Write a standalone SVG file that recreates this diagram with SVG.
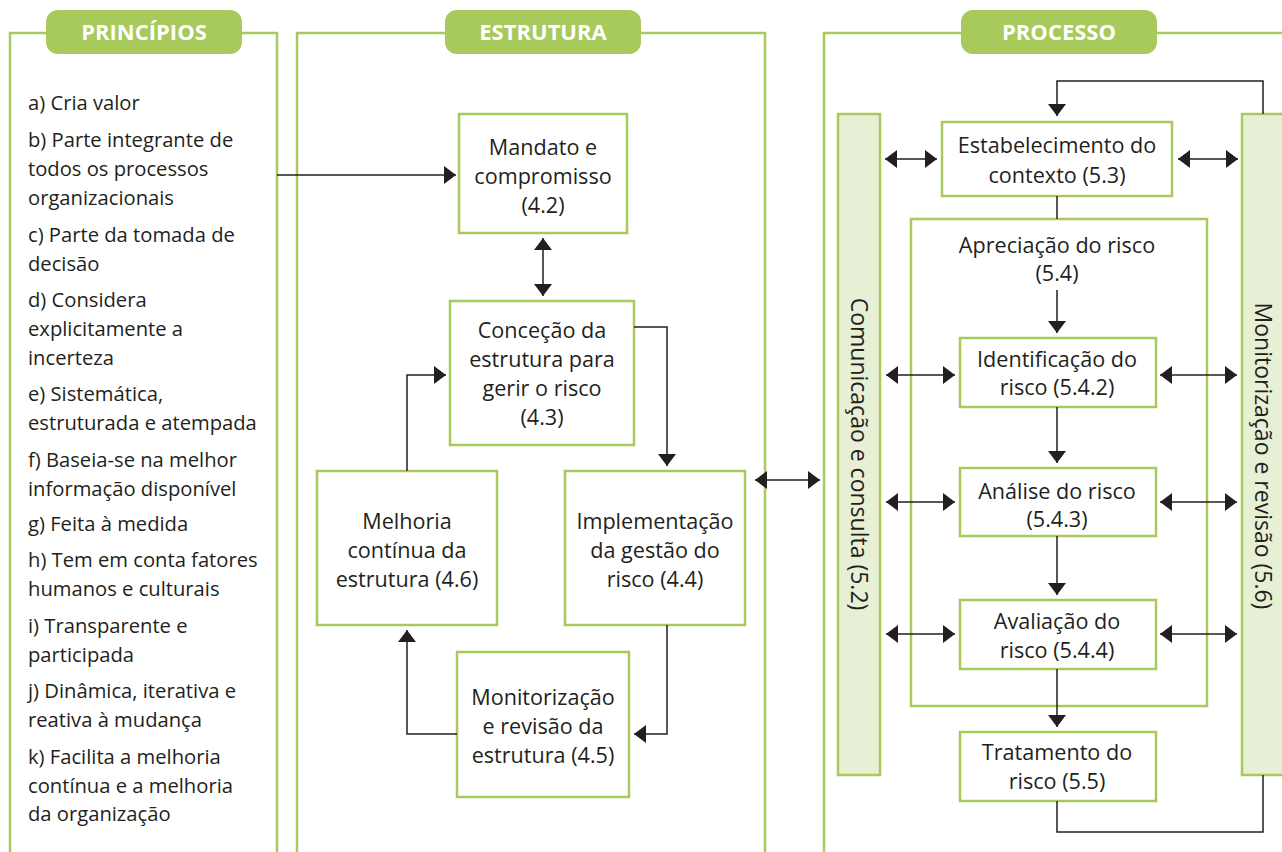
<svg xmlns="http://www.w3.org/2000/svg" width="1282" height="852" viewBox="0 0 1282 852">
<style>
.panel{fill:none;stroke:#a8c95c;stroke-width:2.5}
.pill{fill:#a8c95c}
.hdr{font-family:"Open Sans",sans-serif;font-weight:bold;font-size:22px;fill:#fff;text-anchor:middle}
.box{fill:#fff;stroke:#a8c95c;stroke-width:2.5}
.bar{fill:#e7f0d5;stroke:#a8c95c;stroke-width:2.5}
.t{font-family:"Open Sans",sans-serif;font-size:21.6px;fill:#231f20}
.p{font-family:"Open Sans",sans-serif;font-size:20.2px;fill:#231f20}
.v{font-family:"Open Sans",sans-serif;font-size:23px;fill:#231f20;text-anchor:middle}
.c{text-anchor:middle}
.ln{fill:none;stroke:#231f20;stroke-width:1.5}
.a{marker-end:url(#ah)}
.d{marker-start:url(#ah);marker-end:url(#ah)}
</style>
<defs>
<marker id="ah" markerUnits="userSpaceOnUse" markerWidth="13" markerHeight="18" viewBox="0 0 13 18" refX="12" refY="9" orient="auto-start-reverse">
<path d="M0,0 L12,9 L0,18 Z" fill="#231f20"/>
</marker>
</defs>
<rect width="1282" height="852" fill="#fff"/>

<g id="principios">
<path class="panel" d="M10,852 V33 H277 V852"/>
<rect class="pill" x="46" y="10" width="196" height="44" rx="12"/>
<text class="hdr" x="144" y="40">PRINCÍPIOS</text>
<text class="p" x="28">
<tspan x="28" y="110">a) Cria valor</tspan>
<tspan x="28" y="147">b) Parte integrante de</tspan>
<tspan x="28" y="176">todos os processos</tspan>
<tspan x="28" y="205">organizacionais</tspan>
<tspan x="28" y="242">c) Parte da tomada de</tspan>
<tspan x="28" y="271">decisão</tspan>
<tspan x="28" y="307">d) Considera</tspan>
<tspan x="28" y="336">explicitamente a</tspan>
<tspan x="28" y="365">incerteza</tspan>
<tspan x="28" y="401">e) Sistemática,</tspan>
<tspan x="28" y="430">estruturada e atempada</tspan>
<tspan x="28" y="467">f) Baseia-se na melhor</tspan>
<tspan x="28" y="496">informação disponível</tspan>
<tspan x="28" y="531">g) Feita à medida</tspan>
<tspan x="28" y="567">h) Tem em conta fatores</tspan>
<tspan x="28" y="596">humanos e culturais</tspan>
<tspan x="28" y="633">i) Transparente e</tspan>
<tspan x="28" y="662">participada</tspan>
<tspan x="28" y="698">j) Dinâmica, iterativa e</tspan>
<tspan x="28" y="727">reativa à mudança</tspan>
<tspan x="28" y="764">k) Facilita a melhoria</tspan>
<tspan x="28" y="793">contínua e a melhoria</tspan>
<tspan x="28" y="821">da organização</tspan>
</text>
</g>

<g id="estrutura">
<path class="panel" d="M297,852 V33 H765 V852"/>
<rect class="pill" x="445" y="10" width="196" height="44" rx="12"/>
<text class="hdr" x="543" y="40">ESTRUTURA</text>
</g>

<g id="mandato">
<rect class="box" x="459" y="114" width="168" height="119"/>
<text class="t c"><tspan x="543" y="155">Mandato e</tspan><tspan x="543" y="184">compromisso</tspan><tspan x="543" y="213">(4.2)</tspan></text>
</g>
<g id="concecao">
<rect class="box" x="450" y="301" width="184" height="144"/>
<text class="t c"><tspan x="542" y="338">Conceção da</tspan><tspan x="542" y="367">estrutura para</tspan><tspan x="542" y="396">gerir o risco</tspan><tspan x="542" y="425">(4.3)</tspan></text>
</g>
<g id="melhoria">
<rect class="box" x="317" y="471" width="180" height="154"/>
<text class="t c"><tspan x="407" y="529">Melhoria</tspan><tspan x="407" y="558">contínua da</tspan><tspan x="407" y="587">estrutura (4.6)</tspan></text>
</g>
<g id="implementacao">
<rect class="box" x="565" y="471" width="180" height="154"/>
<text class="t c"><tspan x="655" y="529">Implementação</tspan><tspan x="655" y="558">da gestão do</tspan><tspan x="655" y="587">risco (4.4)</tspan></text>
</g>
<g id="monitorizacao-estrutura">
<rect class="box" x="457" y="652" width="172" height="145"/>
<text class="t c"><tspan x="543" y="705">Monitorização</tspan><tspan x="543" y="734">e revisão da</tspan><tspan x="543" y="763">estrutura (4.5)</tspan></text>
</g>

<g id="processo">
<path class="panel" d="M824,852 V33 H1290"/>
<rect class="pill" x="961" y="10" width="196" height="44" rx="12"/>
<text class="hdr" x="1059" y="40">PROCESSO</text>
</g>

<g id="comunicacao">
<rect class="bar" x="838" y="114" width="42" height="661"/>
<text class="v" transform="translate(859,454) rotate(90)" x="0" y="8">Comunicação e consulta (5.2)</text>
</g>
<g id="monitorizacao-revisao">
<rect class="bar" x="1242" y="114" width="50" height="661"/>
<text class="v" transform="translate(1263,456) rotate(90)" x="0" y="8">Monitorização e revisão (5.6)</text>
</g>
<g id="contexto">
<rect class="box" x="942" y="122" width="230" height="74"/>
<text class="t c"><tspan x="1057" y="153">Estabelecimento do</tspan><tspan x="1057" y="183">contexto (5.3)</tspan></text>
</g>
<g id="apreciacao">
<rect class="box" x="911" y="219" width="296" height="487"/>
<text class="t c"><tspan x="1057" y="253">Apreciação do risco</tspan><tspan x="1057" y="281">(5.4)</tspan></text>
</g>
<g id="identificacao">
<rect class="box" x="960" y="338" width="196" height="69"/>
<text class="t c"><tspan x="1057" y="367">Identificação do</tspan><tspan x="1057" y="395">risco (5.4.2)</tspan></text>
</g>
<g id="analise">
<rect class="box" x="960" y="468" width="196" height="68"/>
<text class="t c"><tspan x="1057" y="499">Análise do risco</tspan><tspan x="1057" y="527">(5.4.3)</tspan></text>
</g>
<g id="avaliacao">
<rect class="box" x="960" y="600" width="196" height="69"/>
<text class="t c"><tspan x="1057" y="629">Avaliação do</tspan><tspan x="1057" y="658">risco (5.4.4)</tspan></text>
</g>
<g id="tratamento">
<rect class="box" x="960" y="732" width="196" height="69"/>
<text class="t c"><tspan x="1057" y="760">Tratamento do</tspan><tspan x="1057" y="789">risco (5.5)</tspan></text>
</g>

<g id="connectors">
<path class="ln a" d="M277,175 H456"/>
<path class="ln d" d="M543,238 V296"/>
<path class="ln a" d="M634,327 H667 V466"/>
<path class="ln a" d="M667,625 V734 H634"/>
<path class="ln a" d="M457,734 H407 V630"/>
<path class="ln a" d="M407,471 V375 H446"/>
<path class="ln d" d="M755,480 H820"/>
<path class="ln a" d="M1263,114 V81 H1057 V116"/>
<path class="ln" d="M1057,196 V219"/>
<path class="ln a" d="M1057,290 V333"/>
<path class="ln a" d="M1057,407 V463"/>
<path class="ln a" d="M1057,536 V595"/>
<path class="ln a" d="M1057,669 V727"/>
<path class="ln" d="M1057,801 V832 H1263 V775"/>
<path class="ln d" d="M885,159 H937"/>
<path class="ln d" d="M1178,159 H1238"/>
<path class="ln d" d="M886,375 H955"/>
<path class="ln d" d="M1160,375 H1237"/>
<path class="ln d" d="M886,502 H955"/>
<path class="ln d" d="M1160,502 H1237"/>
<path class="ln d" d="M886,634 H955"/>
<path class="ln d" d="M1160,634 H1237"/>
</g>
</svg>
